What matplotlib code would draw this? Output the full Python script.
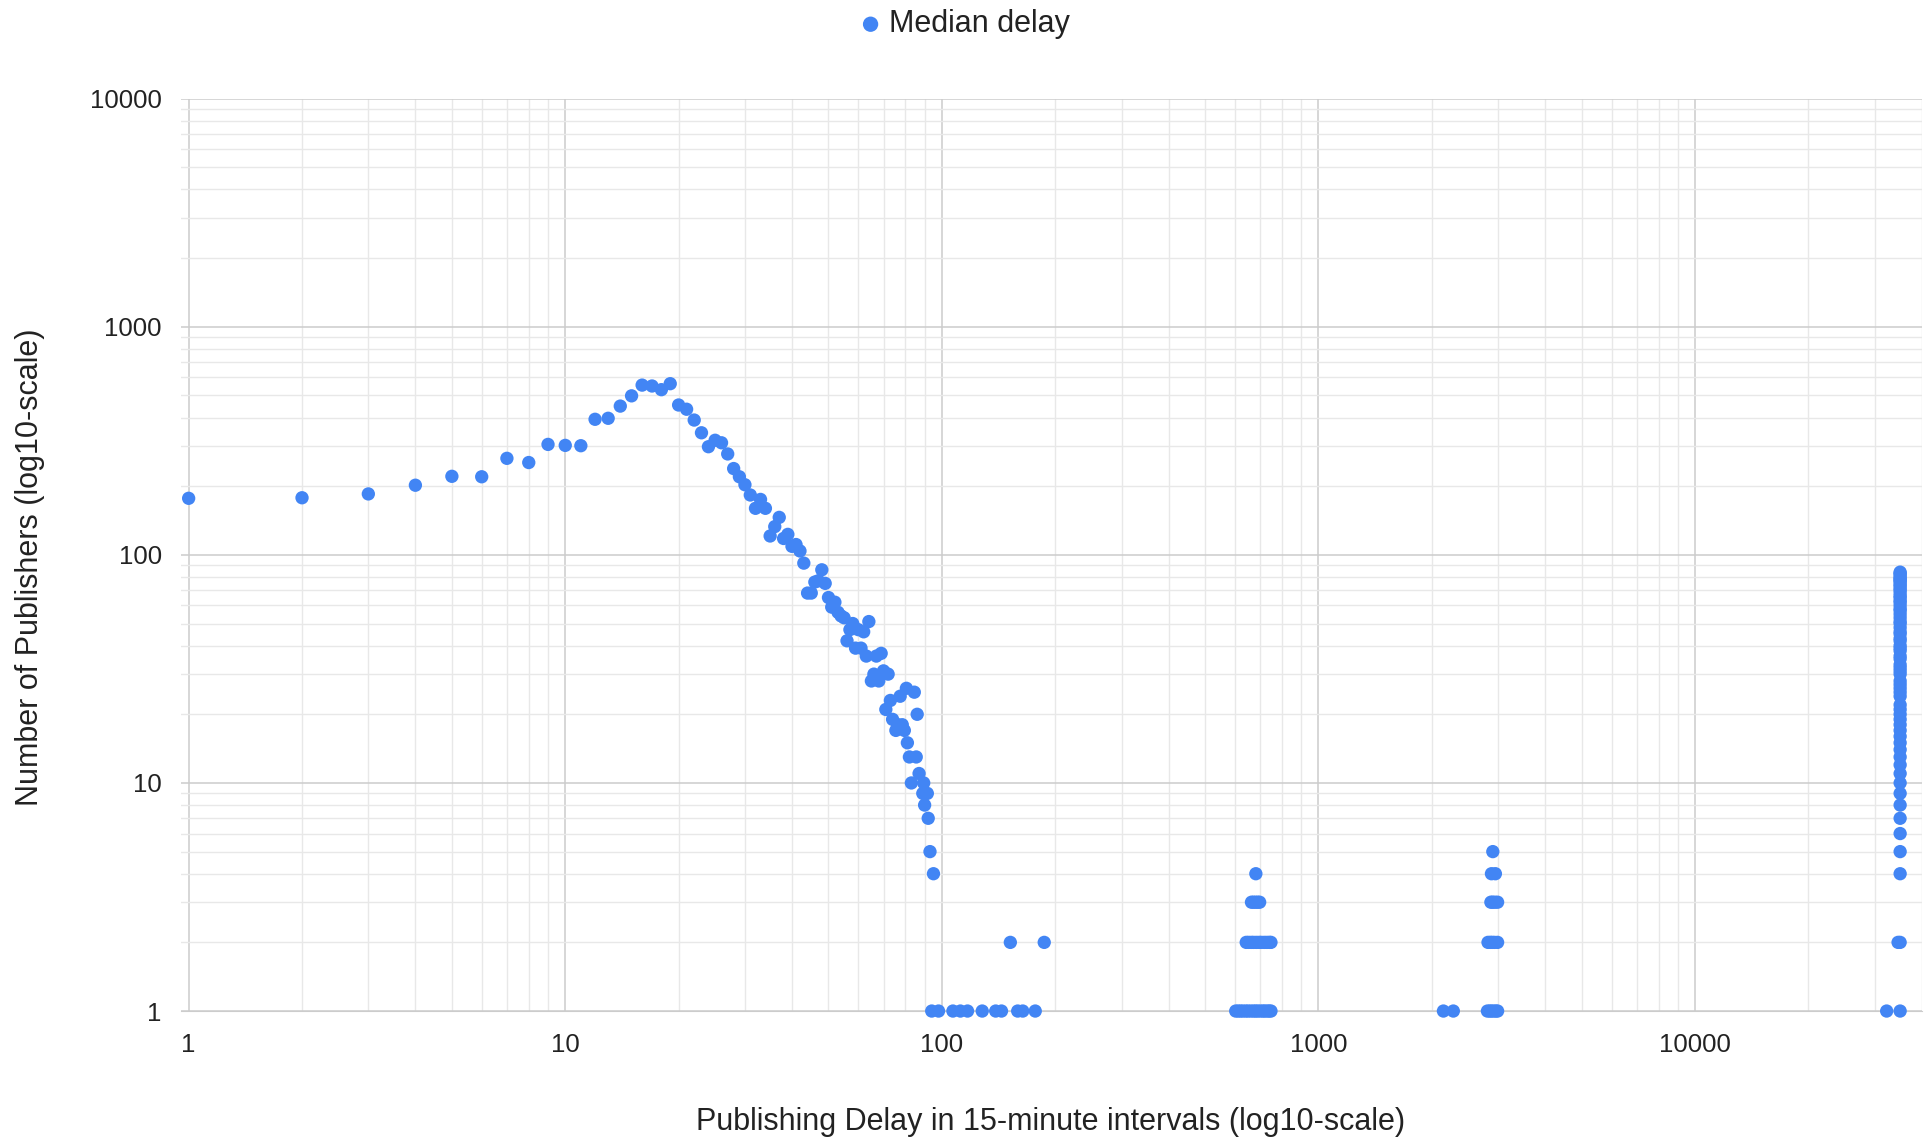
import matplotlib
matplotlib.use("Agg")
import matplotlib.pyplot as plt
from matplotlib.ticker import LogLocator, FixedLocator, FixedFormatter, NullFormatter

plt.rcParams['font.family'] = ['Liberation Sans', 'DejaVu Sans']

# median delay (15-minute intervals) -> number of publishers
main_delay = [1, 2, 3, 4, 5, 6, 7, 8, 9, 10, 11, 12, 13, 14, 15, 16, 17, 18, 19, 20,
              21, 22, 23, 24, 25, 26, 27, 28, 29, 30, 31, 32, 33, 34, 35, 36, 37, 38, 39, 40,
              41, 42, 43, 44, 45, 46, 47, 48, 49, 50, 51, 52, 53, 54, 55, 56, 57, 58, 59, 60,
              61, 62, 63, 64, 65, 66, 67, 68, 69, 70, 71, 72, 73, 74, 75.5, 76.5, 77.5, 78.5,
              79.5, 80.5, 81, 82, 83, 84.5, 85.5, 86, 87, 89, 89.5, 90, 91.5, 92, 93, 95]
main_count = [177, 178, 185, 202, 221, 220, 265, 254, 305, 302, 301, 393, 397, 449, 498, 555,
              550, 530, 563, 454, 435, 390, 343, 298, 318, 310, 277, 239, 220, 203, 183, 160,
              175, 160, 121, 133, 146, 118, 123, 109, 111, 104, 92, 68, 68, 76, 77, 86, 75, 65,
              59, 62, 56, 54, 53, 42, 47, 50, 39, 47, 39, 46, 36, 51, 28, 30, 36, 28, 37, 31,
              21, 30, 23, 19, 17, 18, 24, 18, 17, 26, 15, 13, 10, 25, 13, 20, 11, 9, 10, 8,
              9, 7, 5, 4]

tail_delay = [94, 98, 107, 112, 117, 128, 139, 144, 159, 164, 177, 152, 187]
tail_count = [1, 1, 1, 1, 1, 1, 1, 1, 1, 1, 1, 2, 2]

week_delay = [603, 612, 621, 630, 641, 650, 661, 672, 681, 690, 701, 712, 720, 731, 740, 748,
              643, 652, 663, 672, 684, 696, 705, 718, 730, 741, 748,
              664, 672, 681, 690, 698,
              682]
week_count = [1] * 16 + [2] * 11 + [3] * 5 + [4]

month_delay = [2147, 2281, 2810, 2850, 2880, 2920, 2960, 2990,
               2820, 2860, 2890, 2930, 2990,
               2870, 2900, 2940, 2990,
               2880, 2950, 2904]
month_count = [1, 1, 1, 1, 1, 1, 1, 1, 2, 2, 2, 2, 2, 3, 3, 3, 3, 4, 4, 5]

year_delay = [32270, 35040, 34600, 35040, 35040, 35040, 35040, 35040, 35040, 35040, 35040,
              35040, 35040, 35040, 35040, 35040, 35040, 35040, 35040, 35040, 35040, 35040,
              35040, 35040, 35040, 35040, 35040, 35040, 35040, 35040, 35040, 35040, 35040,
              35040, 35040, 35040, 35040, 35040, 35040, 35040, 35040, 35040, 35040, 35040,
              35040, 35040, 35040, 35040, 35040, 35040, 35040, 35040, 35040, 35040, 35040,
              35040, 35040, 35040, 35040, 35040, 35040, 35040, 35040, 35040, 35040, 35040]
year_count = [1, 1, 2, 2, 4, 5, 6, 7, 8, 9, 10, 11, 12, 13, 14, 15, 16, 17, 18, 19, 20,
              21, 22, 24, 25, 26, 27, 28, 30, 31, 32, 33, 35, 36, 38, 39, 40, 42, 43, 45,
              46, 48, 50, 51, 53, 55, 57, 58, 60, 62, 63, 65, 66, 68, 70, 71, 73, 74, 76,
              77, 78, 79, 80, 82, 83, 84]

x_ticks = [1, 10, 100, 1000, 10000]
x_labels = ['1', '10', '100', '1000', '10000']
y_ticks = [1, 10, 100, 1000, 10000]
y_labels = ['1', '10', '100', '1000', '10000']

blue = '#4285F4'

fig = plt.figure(figsize=(19.33, 11.41), dpi=100)
ax = fig.add_axes([0.0937, 0.1139, 0.9005, 0.7996])

all_x = main_delay + tail_delay + week_delay + month_delay + year_delay
all_y = main_count + tail_count + week_count + month_count + year_count
ax.scatter(all_x, all_y, s=92, color=blue, edgecolors='none', zorder=3,
           label='Median delay', clip_on=False)

ax.set_xscale('log')
ax.set_yscale('log')
ax.set_xlim(0.955, 40000)
ax.set_ylim(1, 10000)

ax.xaxis.set_major_locator(FixedLocator(x_ticks))
ax.xaxis.set_major_formatter(FixedFormatter(x_labels))
ax.yaxis.set_major_locator(FixedLocator(y_ticks))
ax.yaxis.set_major_formatter(FixedFormatter(y_labels))
ax.xaxis.set_minor_locator(LogLocator(base=10, subs=range(2, 10), numticks=20))
ax.yaxis.set_minor_locator(LogLocator(base=10, subs=range(2, 10), numticks=20))
ax.xaxis.set_minor_formatter(NullFormatter())
ax.yaxis.set_minor_formatter(NullFormatter())

ax.grid(True, which='major', color='#cccccc', linewidth=1.1, zorder=0)
ax.grid(True, which='minor', color='#e8e8e8', linewidth=1.0, zorder=0)
ax.set_axisbelow(True)
for side in ['top', 'right', 'left']:
    ax.spines[side].set_visible(False)
ax.spines['bottom'].set_color('#cccccc')
ax.tick_params(which='both', length=0)
ax.tick_params(axis='x', labelsize=18.5, pad=16, colors='#222222')
ax.tick_params(axis='y', labelsize=18.5, pad=14, colors='#222222')

fig.text(0.5437, 1 - 1122 / 1141, 'Publishing Delay in 15-minute intervals (log10-scale)',
         ha='center', va='center', fontsize=22, color='#222222')
fig.text(29.6 / 1933, 1 - 567 / 1141, 'Number of Publishers (log10-scale)',
         ha='center', va='center', rotation=90, fontsize=22, color='#222222')

fig.legend(loc='upper center', bbox_to_anchor=(0.494, 1.016), frameon=False, fontsize=22,
           handletextpad=-0.4, markerscale=1.15, labelcolor='#222222')

fig.savefig('out.png', dpi=100)
